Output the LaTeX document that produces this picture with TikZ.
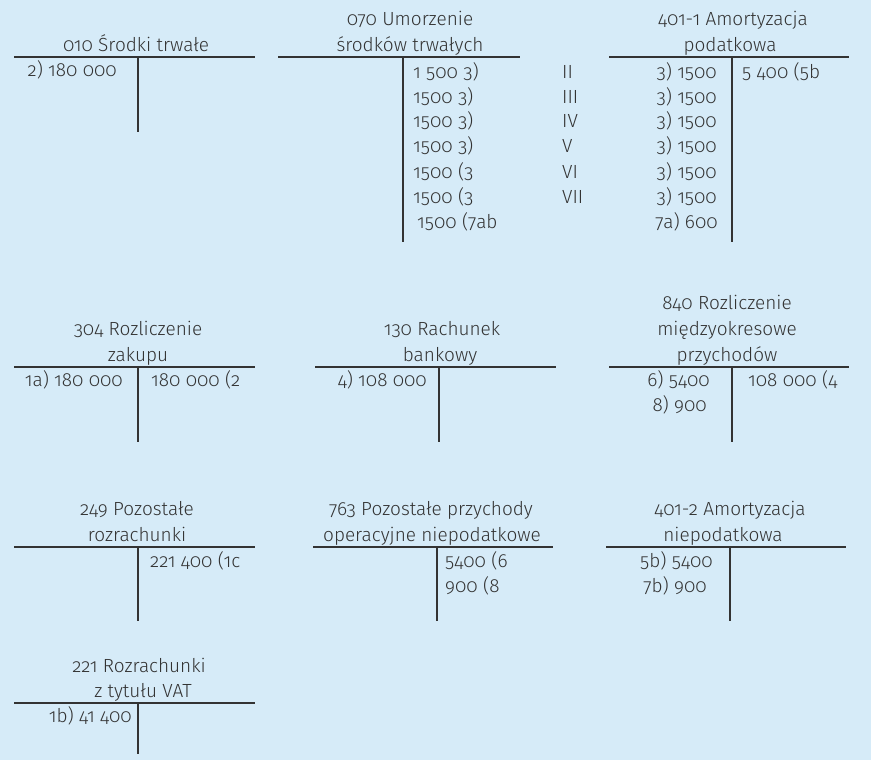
\documentclass[tikz,border=0pt]{standalone}
\usepackage{fontspec}
\setmainfont{Fira Sans Light}[Numbers={OldStyle,Proportional}]
\definecolor{bg}{HTML}{D6EBF8}
\definecolor{ink}{HTML}{333333}
\begin{document}
\begin{tikzpicture}[x=1pt,y=-1pt,
  title/.style={anchor=base,inner sep=0pt,font=\fontsize{19}{26}\selectfont,text=ink},
  entry/.style={anchor=base west,inner sep=0pt,font=\fontsize{19}{25}\selectfont,text=ink},
  lentry/.style={entry,anchor=base east},
  rule/.style={draw=ink,line width=1.3pt}]
\fill[bg] (0,0) rectangle (871,760);
\useasboundingbox (0,0) rectangle (871,760);

% 010
\node[title] (a1t) at (136,52) {010 Środki trwałe};
\draw[rule] (14,57) -- (255,57);
\draw[rule] (138,57) -- (138,132);
\node[lentry] (a1l1) at (117,77) {2) 180 000};

% 070
\node[title] (a2t1) at (410,26) {070 Umorzenie};
\node[title] (a2t2) at (410,52) {środków trwałych};
\draw[rule] (278,57) -- (520,57);
\draw[rule] (403,57) -- (403,242);
\node[entry] (a2r1) at (413,78) {1 500 3)};
\node[entry] (a2r2) at (413,103) {1500 3)};
\node[entry] (a2r3) at (413,128) {1500 3)};
\node[entry] (a2r4) at (413,153) {1500 3)};
\node[entry] (a2r5) at (413,178) {1500 (3};
\node[entry] (a2r6) at (413,203) {1500 (3};
\node[entry] (a2r7) at (417,228) {1500 (7ab};

% roman numerals
\node[entry] (m2) at (562,78) {II};
\node[entry] (m3) at (562,103) {III};
\node[entry] (m4) at (562,128) {IV};
\node[entry] (m5) at (562,153) {V};
\node[entry] (m6) at (562,178) {VI};
\node[entry] (m7) at (562,203) {VII};

% 401-1
\node[title] (a3t1) at (733,26) {401-1 Amortyzacja};
\node[title] (a3t2) at (730,52) {podatkowa};
\draw[rule] (609,57) -- (849,57);
\draw[rule] (732,57) -- (732,242);
\node[lentry] (a3l1) at (717,78) {3) 1500};
\node[lentry] (a3l2) at (717,103) {3) 1500};
\node[lentry] (a3l3) at (717,128) {3) 1500};
\node[lentry] (a3l4) at (717,153) {3) 1500};
\node[lentry] (a3l5) at (717,178) {3) 1500};
\node[lentry] (a3l6) at (717,203) {3) 1500};
\node[lentry] (a3l7) at (718,228) {7a) 600};
\node[entry] (a3r1) at (742,78) {5 400 (5b};

% 304
\node[title] (a4t1) at (138,335) {304 Rozliczenie};
\node[title] (a4t2) at (138,361) {zakupu};
\draw[rule] (14,367) -- (255,367);
\draw[rule] (138,367) -- (138,442);
\node[lentry] (a4l1) at (123,386) {1a) 180 000};
\node[entry] (a4r1) at (151,386) {180 000 (2};

% 130
\node[title] (a5t1) at (442,335) {130 Rachunek};
\node[title] (a5t2) at (440,361) {bankowy};
\draw[rule] (315,367) -- (556,367);
\draw[rule] (439,367) -- (439,442);
\node[lentry] (a5l1) at (427,386) {4) 108 000};

% 840
\node[title] (a6t1) at (727,309) {840 Rozliczenie};
\node[title] (a6t2) at (727,335) {międzyokresowe};
\node[title] (a6t3) at (727,361) {przychodów};
\draw[rule] (609,367) -- (849,367);
\draw[rule] (732,367) -- (732,442);
\node[lentry] (a6l1) at (710,386) {6) 5400};
\node[lentry] (a6l2) at (707,411) {8) 900};
\node[entry] (a6r1) at (748,386) {108 000 (4};

% 249
\node[title] (a7t1) at (137,515) {249 Pozostałe};
\node[title] (a7t2) at (137,541) {rozrachunki};
\draw[rule] (14,547) -- (255,547);
\draw[rule] (138,547) -- (138,621);
\node[entry] (a7r1) at (150,567) {221 400 (1c};

% 763
\node[title] (a8t1) at (431,515) {763 Pozostałe przychody};
\node[title] (a8t2) at (432,541) {operacyjne niepodatkowe};
\draw[rule] (313,547) -- (553,547);
\draw[rule] (437,547) -- (437,621);
\node[entry] (a8r1) at (445,567) {5400 (6};
\node[entry] (a8r2) at (445,592) {900 (8};

% 401-2
\node[title] (a9t1) at (730,515) {401-2 Amortyzacja};
\node[title] (a9t2) at (723,541) {niepodatkowa};
\draw[rule] (606,547) -- (846,547);
\draw[rule] (730,547) -- (730,621);
\node[lentry] (a9l1) at (713,567) {5b) 5400};
\node[lentry] (a9l2) at (707,592) {7b) 900};

% 221
\node[title] (a10t1) at (139,672) {221 Rozrachunki};
\node[title] (a10t2) at (143,697) {z tytułu VAT};
\draw[rule] (14,703) -- (255,703);
\draw[rule] (138,703) -- (138,754);
\node[lentry] (a10l1) at (132,722) {1b) 41 400};
\end{tikzpicture}
\end{document}
